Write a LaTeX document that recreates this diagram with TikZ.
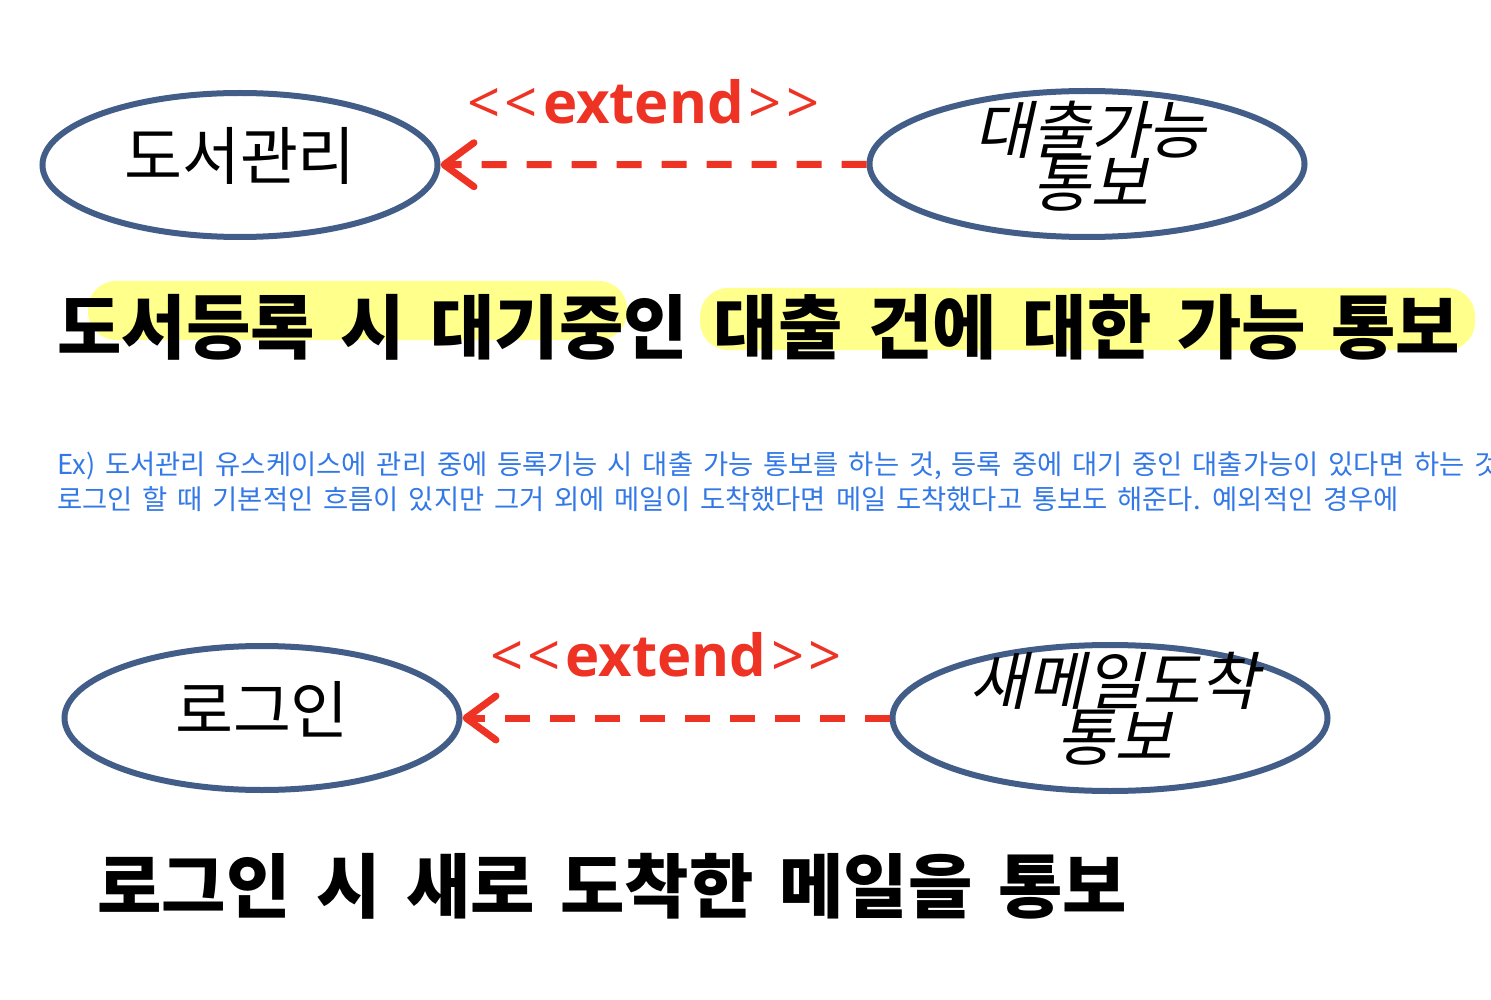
\documentclass[tikz,border=0pt]{standalone}
\usepackage{fontspec}
\usepackage{xcolor}
\setmainfont{Noto Sans CJK KR}
\newfontfamily\krslant[FakeSlant=0.22]{Noto Sans CJK KR}
\newfontfamily\krtitle[WordSpace=1.8]{Noto Sans CJK KR}
\newfontfamily\krnote[WordSpace=1.6]{Noto Sans CJK KR}
\newfontfamily\extfont{Open Sans}
\usetikzlibrary{positioning,arrows.meta,shapes.geometric}

\definecolor{ucblue}{RGB}{66,94,136}
\definecolor{extred}{RGB}{238,50,36}
\definecolor{noteblue}{RGB}{50,120,230}
\definecolor{markeryellow}{RGB}{255,255,140}
\newcommand{\extlab}{<\kern4pt<\kern5pt{\bfseries extend}\kern5pt>\kern4pt>}

\begin{document}
\begin{tikzpicture}[x=1pt, y=-1pt,
 usecase/.style = {ellipse, draw=ucblue, line width=6pt, minimum width=395pt, minimum height=144pt, inner sep=0pt, text height=45pt, text depth=15pt, font=\fontsize{63}{66}\selectfont},
 wide/.style = {minimum width=435pt, minimum height=146pt},
 tilted/.style = {inner sep=0pt, align=center, font=\fontsize{63}{66}\krslant},
 extend/.style = {extred, line width=7pt, dash pattern=on 25pt off 20pt, -{Straight Barb[length=30pt,width=44pt,round]}},
 extlabel/.style = {extred, inner sep=0pt, above=37pt, xshift=-10pt, font=\fontsize{58}{60}\extfont},
 title/.style = {anchor=west, inner sep=0pt, font=\fontsize{70}{76}\krtitle\bfseries},
 note/.style = {anchor=west, align=left, inner sep=0pt, text=noteblue, font=\fontsize{27.4}{35}\krnote},
 marker/.style = {fill=markeryellow, rounded corners=28pt}]

\useasboundingbox (0,0) rectangle (1491,1000);

% book management
\node[usecase] (manage) at (240,165) {도서관리};
\node[usecase, wide] (notify) at (1087,164) {};
\node[tilted] (notifytext) at (1090,156) {대출가능\\[-13pt]통보};
\path
 (notify) edge[extend] node[extlabel] {\extlab} (manage);

\fill[marker] (88,281) rectangle (627,340);
\fill[marker] (700,288) rectangle (1475,350);
\node[title] (regtitle) at (57,327) {도서등록 시 대기중인 대출 건에 대한 가능 통보};

\node[note] (remark) at (57,482) {Ex) 도서관리 유스케이스에 관리 중에 등록기능 시 대출 가능 통보를 하는 것, 등록 중에 대기 중인 대출가능이 있다면 하는 것\\로그인 할 때 기본적인 흐름이 있지만 그거 외에 메일이 도착했다면 메일 도착했다고 통보도 해준다. 예외적인 경우에};

% login
\node[usecase] (login) at (262,718) {로그인};
\node[usecase, wide] (mailnotify) at (1110,718) {};
\node[tilted] (mailtext) at (1114,709) {새메일도착\\[-10pt]통보};
\path
 (mailnotify) edge[extend] node[extlabel] {\extlab} (login);

\node[title] (logintitle) at (97,886) {로그인 시 새로 도착한 메일을 통보};
\end{tikzpicture}
\end{document}
